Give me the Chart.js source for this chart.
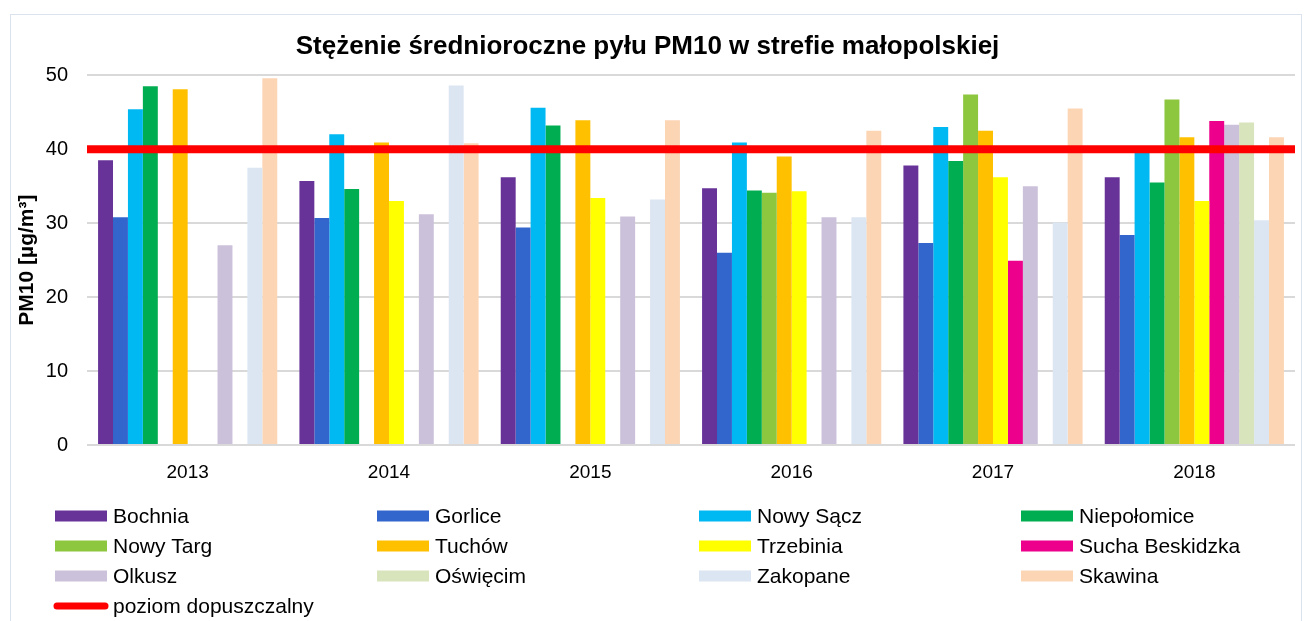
<!DOCTYPE html>
<html lang="pl">
<head>
<meta charset="utf-8">
<title>PM10 - strefa małopolska</title>
<script src="https://cdn.jsdelivr.net/npm/chart.js@4.4.1/dist/chart.umd.min.js"></script>
<style>
    html, body { margin: 0; padding: 0; background: #fff; }
    body { width: 1309px; height: 621px; position: relative; overflow: hidden; }
    #frame {
        position: absolute; left: 10px; top: 14px; width: 1292px; height: 620px;
        border: 1.5px solid #dbe3ee; box-sizing: border-box;
    }
    #wrap { position: absolute; left: 0; top: 0; width: 1309px; height: 621px; }
</style>
</head>
<body>
<div id="frame"></div>
<div id="wrap"><canvas id="pmChart" width="1309" height="621"></canvas></div>
<script>
// --- dane: średnioroczne stężenia PM10 [µg/m3] ---
const years = ['2013', '2014', '2015', '2016', '2017', '2018'];

const bochnia     = [38.5, 35.7, 36.2, 34.7, 37.8, 36.2];
const gorlice     = [30.8, 30.7, 29.4, 26.0, 27.3, 28.4];
const nowySacz    = [45.4, 42.0, 45.6, 40.9, 43.0, 39.9];
const niepolomice = [48.5, 34.6, 43.2, 34.4, 38.4, 35.5];
const nowyTarg    = [null, null, null, 34.1, 47.4, 46.7];
const tuchow      = [48.1, 40.9, 43.9, 39.0, 42.5, 41.6];
const trzebinia   = [null, 33.0, 33.4, 34.3, 36.2, 33.0];
const sucha       = [null, null, null, null, 24.9, 43.8];
const olkusz      = [27.0, 31.2, 30.9, 30.8, 35.0, 43.3];
const oswiecim    = [null, null, null, null, null, 43.6];
const zakopane    = [37.5, 48.6, 33.2, 30.8, 30.1, 30.4];
const skawina     = [49.6, 40.8, 43.9, 42.5, 45.5, 41.6];

const limitLevel  = 40;   // poziom dopuszczalny [µg/m3]
const limitLabel  = 'poziom dopuszczalny';
const limitColor  = '#ff0000';

const FONT = 'Arial, "Liberation Sans", sans-serif';

function barSet(label, data, color) {
    return {
        label: label,
        data: data,
        backgroundColor: color,
        borderWidth: 0,
        barPercentage: 1.0,
        categoryPercentage: 0.89
    };
}

// czerwona linia poziomu dopuszczalnego - przez całą szerokość wykresu (jak w Excelu)
const limitLine = {
    id: 'limitLine',
    afterDatasetsDraw(chart) {
        const { ctx, chartArea, scales } = chart;
        const y = scales.y.getPixelForValue(limitLevel);
        ctx.save();
        ctx.strokeStyle = limitColor;
        ctx.lineWidth = 8;
        ctx.beginPath();
        ctx.moveTo(chartArea.left, y);
        ctx.lineTo(chartArea.right, y);
        ctx.stroke();
        ctx.restore();
    }
};

// legenda rysowana w 4 kolumnach, jak w Excelu
const gridLegend = {
    id: 'gridLegend',
    afterDraw(chart) {
        const ctx = chart.ctx;
        const colX = [55, 377, 699, 1021];
        const rowY0 = 516, rowH = 30;
        const items = chart.data.datasets.map(ds => ({ text: ds.label, color: ds.backgroundColor, line: false }));
        items.push({ text: limitLabel, color: limitColor, line: true });

        ctx.save();
        ctx.font = '21px ' + FONT;
        ctx.textBaseline = 'middle';
        ctx.textAlign = 'left';
        items.forEach((it, i) => {
            const x = colX[i % 4];
            const y = rowY0 + Math.floor(i / 4) * rowH;
            if (it.line) {
                ctx.strokeStyle = it.color;
                ctx.lineWidth = 7;
                ctx.lineCap = 'round';
                ctx.beginPath();
                ctx.moveTo(x + 2, y);
                ctx.lineTo(x + 50, y);
                ctx.stroke();
            } else {
                ctx.fillStyle = it.color;
                ctx.fillRect(x, y - 5.5, 52, 11);
            }
            ctx.fillStyle = '#000';
            ctx.fillText(it.text, x + 58, y + 1);
        });
        ctx.restore();
    }
};

document.addEventListener('DOMContentLoaded', () => {
    const ctx = document.getElementById('pmChart').getContext('2d');

    new Chart(ctx, {
        type: 'bar',
        data: {
            labels: years,
            datasets: [
                barSet('Bochnia', bochnia, '#673399'),
                barSet('Gorlice', gorlice, '#3366cc'),
                barSet('Nowy Sącz', nowySacz, '#00b8f2'),
                barSet('Niepołomice', niepolomice, '#00ad50'),
                barSet('Nowy Targ', nowyTarg, '#8dc63f'),
                barSet('Tuchów', tuchow, '#ffc000'),
                barSet('Trzebinia', trzebinia, '#ffff00'),
                barSet('Sucha Beskidzka', sucha, '#ec008c'),
                barSet('Olkusz', olkusz, '#ccc1da'),
                barSet('Oświęcim', oswiecim, '#d8e4bc'),
                barSet('Zakopane', zakopane, '#dce6f2'),
                barSet('Skawina', skawina, '#fcd5b5')
            ]
        },
        options: {
            responsive: false,
            animation: false,
            layout: { padding: { left: 0, right: 14, top: 0, bottom: 131 } },
            plugins: {
                legend: { display: false },
                tooltip: { enabled: false },
                title: {
                    display: true,
                    text: 'Stężenie średnioroczne pyłu PM10 w strefie małopolskiej',
                    color: '#000',
                    font: { family: FONT, size: 26, weight: 'bold' },
                    padding: { top: 31, bottom: 13 }
                }
            },
            scales: {
                x: {
                    grid: { display: false },
                    border: { display: false },
                    ticks: { color: '#000', font: { family: FONT, size: 19 }, padding: 8 },
                    afterFit: (scale) => { scale.height = 45; }
                },
                y: {
                    min: 0,
                    max: 50,
                    ticks: { stepSize: 10, color: '#000', font: { family: FONT, size: 20 }, padding: 19 },
                    grid: { color: '#d9d9d9', lineWidth: 2, drawTicks: false },
                    border: { display: false },
                    title: {
                        display: true,
                        text: 'PM10 [µg/m³]',
                        color: '#000',
                        font: { family: FONT, size: 21, weight: 'bold' },
                        padding: { top: 15, bottom: 0 }
                    },
                    afterFit: (scale) => { scale.width = 87; }
                }
            }
        },
        plugins: [limitLine, gridLegend]
    });
});
</script>
</body>
</html>
